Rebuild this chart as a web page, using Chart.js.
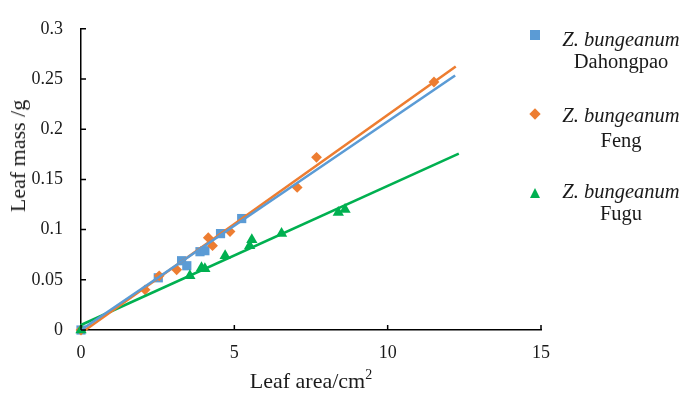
<!DOCTYPE html>
<html>
<head>
<meta charset="utf-8">
<script src="https://cdn.jsdelivr.net/npm/chart.js@4.4.1/dist/chart.umd.min.js"></script>
<style>
  html, body { margin:0; padding:0; background:#fff; }
  #wrap { position:relative; width:687px; height:393px; font-family:'Liberation Serif','Times New Roman',serif; color:#1a1a1a; }
  canvas { position:absolute; left:0; top:0; }
  .t { position:absolute; white-space:nowrap; transform:translate(-50%,-50%); line-height:1; }
  .ytitle { font-size:22px; transform:translate(-50%,-50%) rotate(-90deg); }
  .xtitle { font-size:22px; }
  .xtitle sup { font-size:14px; vertical-align:9px; line-height:0; }
  .leg { font-size:20.5px; }
  .leg i { font-style:italic; }
  .mk { position:absolute; }
</style>
</head>
<body>
<div id="wrap">
  <canvas id="c" width="687" height="393"></canvas>
  <div class="t ytitle" style="left:18px; top:156px;">Leaf mass /g</div>
  <div class="t xtitle" style="left:311px; top:381px;">Leaf area/cm<sup>2</sup></div>
  <div id="legend"></div>
</div>
<script>
// ---- data ----
const seriesNames = ['Dahongpao', 'Feng', 'Fugu'];
const speciesName = 'Z. bungeanum';

const dahongpaoX = [0, 2.52, 3.28, 3.45, 3.88, 4.04, 4.55, 5.24];
const dahongpaoY = [0, 0.052, 0.069, 0.064, 0.078, 0.079, 0.096, 0.111];

const fengX = [0, 2.09, 2.55, 3.12, 4.15, 4.29, 4.86, 7.05, 7.68, 11.51];
const fengY = [0, 0.040, 0.054, 0.060, 0.092, 0.084, 0.098, 0.142, 0.172, 0.247];

const fuguX = [0, 3.55, 3.93, 4.04, 4.70, 5.50, 5.57, 6.54, 8.39, 8.61];
const fuguY = [0, 0.054, 0.062, 0.061, 0.074, 0.084, 0.090, 0.096, 0.117, 0.120];

// fitted trend lines (end points)
const dahongpaoFitX = [0, 12.2];
const dahongpaoFitY = [0, 0.2535];
const fengFitX = [0.14, 12.22];
const fengFitY = [0, 0.2625];
const fuguFitX = [0, 12.32];
const fuguFitY = [0.005, 0.1757];

const xTickValues = [0, 5, 10, 15];
const xTickLabels = ['0', '5', '10', '15'];
const yTickValues = [0, 0.05, 0.1, 0.15, 0.2, 0.25, 0.3];
const yTickLabels = ['0', '0.05', '0.1', '0.15', '0.2', '0.25', '0.3'];

const colors = ['#5B9BD5', '#ED7D31', '#00B050'];
const shapes = ['rect', 'rectRot', 'triangle'];

// ---- build ----
const pts = (xs, ys) => xs.map((x, i) => ({x: x, y: ys[i]}));
const font = {family: "'Liberation Serif','Times New Roman',serif", size: 18};

const pointSets = [[dahongpaoX, dahongpaoY], [fengX, fengY], [fuguX, fuguY]];
const fitSets = [[dahongpaoFitX, dahongpaoFitY], [fengFitX, fengFitY], [fuguFitX, fuguFitY]];
const radii = [6.5, 5.4, 6.5];

const datasets = [];
fitSets.forEach((s, i) => datasets.push({
  type: 'scatter', label: seriesNames[i] + ' fit', data: pts(s[0], s[1]),
  showLine: true, borderColor: colors[i], borderWidth: 2.6, pointRadius: 0,
  backgroundColor: colors[i], order: 0, clip: false
}));
pointSets.forEach((s, i) => datasets.push({
  type: 'scatter', label: seriesNames[i], data: pts(s[0], s[1]),
  pointStyle: shapes[i], pointRadius: radii[i], pointHoverRadius: radii[i],
  backgroundColor: colors[i], borderColor: colors[i], borderWidth: 0,
  order: 3 - i, clip: false
}));

const innerTicks = {
  id: 'innerTicks',
  afterDraw(chart) {
    const ctx = chart.ctx, a = chart.chartArea;
    const xs = chart.scales.x, ys = chart.scales.y;
    ctx.save();
    ctx.strokeStyle = '#000';
    ctx.lineWidth = 1.5;
    ctx.beginPath();
    xTickValues.forEach(v => { const p = xs.getPixelForValue(v); ctx.moveTo(p, a.bottom); ctx.lineTo(p, a.bottom - 5); });
    yTickValues.forEach(v => { const p = ys.getPixelForValue(v); ctx.moveTo(a.left, p); ctx.lineTo(a.left + 5, p); });
    ctx.stroke();
    ctx.restore();
  }
};

new Chart(document.getElementById('c'), {
  type: 'scatter',
  data: {datasets: datasets},
  options: {
    responsive: false, animation: false, devicePixelRatio: 1,
    layout: {padding: {left: 0, right: 146, top: 14, bottom: 0}},
    plugins: {legend: {display: false}, tooltip: {enabled: false}},
    scales: {
      x: {
        type: 'linear', min: 0, max: 15,
        afterBuildTicks: s => { s.ticks = xTickValues.map(v => ({value: v})); },
        afterFit: s => { s.height = 63; },
        ticks: {font: font, color: '#1a1a1a', padding: 12, maxRotation: 0,
                callback: (v, i) => xTickLabels[i]},
        grid: {display: true, drawOnChartArea: false, drawTicks: false},
        border: {display: true, color: '#000', width: 1.5}
      },
      y: {
        type: 'linear', min: 0, max: 0.3,
        afterBuildTicks: s => { s.ticks = yTickValues.map(v => ({value: v})); },
        afterFit: s => { s.width = 81; },
        ticks: {font: font, color: '#1a1a1a', padding: 18,
                callback: (v, i) => yTickLabels[i]},
        grid: {display: true, drawOnChartArea: false, drawTicks: false},
        border: {display: true, color: '#000', width: 1.5}
      }
    }
  },
  plugins: [innerTicks]
});

// ---- legend (HTML text) ----
const legendRows = [
  {marker: 35, l1: 39, l2: 61},
  {marker: 114, l1: 115, l2: 140},
  {marker: 193, l1: 191, l2: 213}
];
const lg = document.getElementById('legend');
legendRows.forEach((r, i) => {
  let m;
  if (i === 0) {
    m = `<div class="mk" style="left:530px; top:${r.marker - 5}px; width:10px; height:10px; background:${colors[0]}"></div>`;
  } else if (i === 1) {
    m = `<div class="mk" style="left:531px; top:${r.marker - 4}px; width:8px; height:8px; background:${colors[1]}; transform:rotate(45deg)"></div>`;
  } else {
    m = `<div class="mk" style="left:530px; top:${r.marker - 5}px; width:0; height:0; border-left:5px solid transparent; border-right:5px solid transparent; border-bottom:10px solid ${colors[2]}"></div>`;
  }
  lg.insertAdjacentHTML('beforeend', m +
    `<div class="t leg" style="left:621px; top:${r.l1}px;"><i>${speciesName}</i></div>` +
    `<div class="t leg" style="left:621px; top:${r.l2}px;">${seriesNames[i]}</div>`);
});
</script>
</body>
</html>
